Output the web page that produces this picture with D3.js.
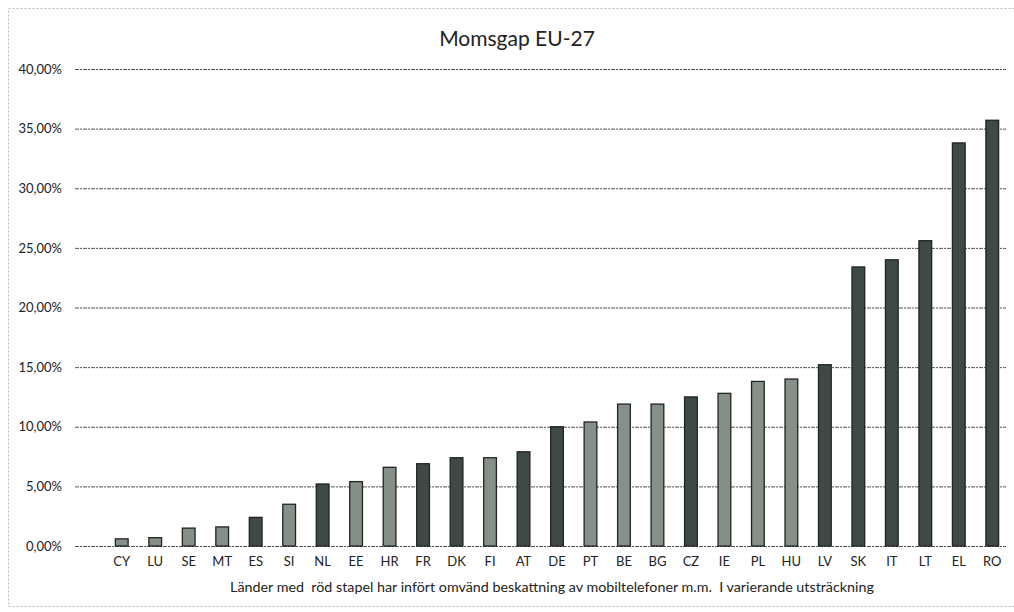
<!DOCTYPE html>
<html>
<head>
<meta charset="utf-8">
<script src="https://cdn.jsdelivr.net/npm/d3@7"></script>
<style>
  body { margin: 0; background: #fff; }
  svg { font-family: Lato, "Noto Sans", sans-serif; }
</style>
</head>
<body>
<div id="chart"></div>
<script>
// countries, sorted by VAT gap
var countries = ["CY", "LU", "SE", "MT", "ES", "SI", "NL", "EE", "HR", "FR", "DK", "FI", "AT", "DE",
  "PT", "BE", "BG", "CZ", "IE", "PL", "HU", "LV", "SK", "IT", "LT", "EL", "RO"];
var gap = [0.006, 0.007, 0.015, 0.016, 0.024, 0.035, 0.052, 0.054, 0.066, 0.069, 0.074, 0.074, 0.079, 0.100,
  0.104, 0.119, 0.119, 0.125, 0.128, 0.138, 0.140, 0.152, 0.234, 0.240, 0.256, 0.338, 0.357];
// 1 = red bar (reverse charge introduced), 0 = other
var reverseCharge = [0, 0, 0, 0, 1, 0, 1, 0, 0, 1, 1, 0, 1, 1,
  0, 0, 0, 1, 0, 0, 0, 1, 1, 1, 1, 1, 1];
var yTicks = [0, 0.05, 0.10, 0.15, 0.20, 0.25, 0.30, 0.35, 0.40];

var W = 1014, H = 612;
var svg = d3.select("#chart").append("svg").attr("width", W).attr("height", H);

// faint frame of the scanned chart
svg.append("rect")
  .attr("x", 8.5).attr("y", 8.5)
  .attr("width", W - 6).attr("height", H - 14)
  .attr("fill", "none")
  .attr("stroke", "#bbb")
  .attr("stroke-dasharray", "2,2")
  .attr("stroke-width", 1);

var x = d3.scaleBand().domain(countries).range([105, 1009]).paddingInner(0.62).paddingOuter(0.31);
var y = d3.scaleLinear().domain([0, 0.40]).range([546, 69]);

// gridlines
svg.append("g")
  .selectAll("line")
  .data(yTicks)
  .enter()
  .append("line")
  .attr("x1", 75).attr("x2", 1006)
  .attr("y1", function (d) { return y(d) + 0.5; })
  .attr("y2", function (d) { return y(d) + 0.5; })
  .attr("stroke", "#555")
  .attr("stroke-width", 1)
  .attr("stroke-dasharray", "4,1,2,1");

// y axis labels
var fmt = function (d) { return (d * 100).toFixed(2).replace(".", ",") + "%"; };
svg.append("g")
  .attr("transform", "translate(65,0)")
  .call(d3.axisLeft(y).tickValues(yTicks).tickSize(0).tickFormat(fmt))
  .call(function (g) { g.select(".domain").remove(); })
  .selectAll("text")
  .attr("font-family", "Lato, 'Noto Sans', sans-serif")
  .attr("font-size", 13)
  .attr("fill", "#222");

// bars
svg.append("g")
  .selectAll("rect")
  .data(countries)
  .enter()
  .append("rect")
  .attr("x", function (d) { return x(d); })
  .attr("width", x.bandwidth())
  .attr("y", function (d, i) { return y(gap[i]); })
  .attr("height", function (d, i) { return y(0) - y(gap[i]); })
  .attr("fill", function (d, i) { return reverseCharge[i] ? "#3f4a45" : "#859089"; })
  .attr("stroke", "#1f2521")
  .attr("stroke-width", 1.3);

// x axis labels
svg.append("g")
  .attr("transform", "translate(0,554)")
  .call(d3.axisBottom(x).tickSize(0))
  .call(function (g) { g.select(".domain").remove(); })
  .selectAll("text")
  .attr("font-family", "Lato, 'Noto Sans', sans-serif")
  .attr("font-size", 13)
  .attr("fill", "#222");

// title
svg.append("text")
  .attr("x", 517).attr("y", 46)
  .attr("text-anchor", "middle")
  .attr("font-size", 21)
  .attr("fill", "#222")
  .text("Momsgap EU-27");

// axis title
svg.append("text")
  .attr("x", 552).attr("y", 592)
  .attr("text-anchor", "middle")
  .attr("font-size", 14.3)
  .attr("fill", "#222")
  .attr("xml:space", "preserve")
  .style("white-space", "pre")
  .text("Länder med  röd stapel har infört omvänd beskattning av mobiltelefoner m.m.  I varierande utsträckning");
</script>
</body>
</html>
